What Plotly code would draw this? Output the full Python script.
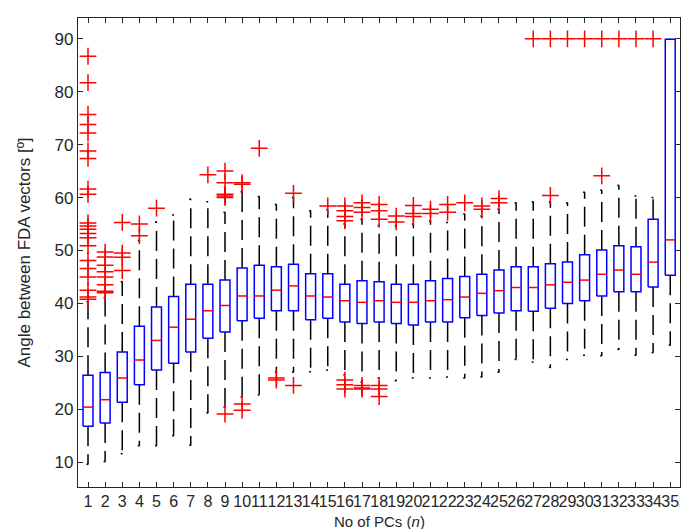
import plotly.graph_objects as go

n_pcs = list(range(1, 36))
q1 = [16.8, 17.4, 21.3, 24.6, 27.4, 28.7, 30.8, 33.4, 34.6, 36.7,
      37.2, 38.6, 38.6, 36.9, 37.2, 36.5, 36.2, 36.5, 36.2, 35.9,
      36.5, 36.5, 37.3, 37.7, 38.2, 38.6, 38.5, 39.1, 40.0, 40.5,
      41.4, 42.2, 42.2, 43.1, 45.3]
median = [20.4, 21.8, 25.9, 29.3, 33.0, 35.5, 37.0, 38.6, 39.6, 41.4,
          41.4, 42.5, 43.3, 41.4, 41.2, 40.5, 40.2, 40.5, 40.2, 40.2,
          40.5, 40.7, 41.2, 41.9, 42.4, 43.0, 43.0, 43.5, 44.0, 44.4,
          45.5, 46.3, 45.5, 47.8, 52.0]
q3 = [26.4, 26.95, 30.8, 35.7, 39.3, 41.3, 43.6, 43.6, 44.4, 46.7,
      47.2, 46.9, 47.4, 45.6, 45.6, 43.6, 44.3, 44.1, 43.6, 43.6,
      44.3, 44.7, 45.1, 45.5, 46.3, 46.9, 46.9, 47.5, 47.8, 49.2,
      50.1, 50.9, 50.7, 55.9, 89.9]
whisker_low = [9.6, 10.1, 11.6, 13.1, 13.1, 15.0, 13.2, 19.3, 20.4, 22.3,
               22.7, 27.0, 27.0, 27.1, 27.4, 26.5, 25.1, 25.9, 25.4, 25.9,
               25.9, 26.1, 25.9, 26.1, 27.0, 29.4, 28.9, 27.9, 29.4, 30.2,
               30.1, 31.3, 30.2, 30.7, 32.1]
whisker_high = [40.3, 41.0, 44.1, 51.9, 55.4, 56.7, 59.7, 59.2, 57.2, 61.1,
                60.2, 58.7, 60.0, 57.5, 57.7, 55.0, 55.9, 54.7, 54.7, 55.0,
                55.6, 55.3, 56.9, 56.5, 57.8, 59.0, 59.2, 59.2, 59.0, 61.0,
                61.4, 62.3, 60.3, 60.0, 89.9]
outliers = [
    [86.7, 81.7, 75.7, 73.8, 72.2, 68.8, 67.4, 61.6, 60.6, 55.2, 54.6, 54.0,
     53.2, 52.4, 50.9, 48.1, 46.6, 45.0, 42.5, 41.2, 40.8],
    [49.7, 48.75, 47.2, 46.0, 45.0, 43.5, 42.3, 42.0],
    [55.3, 49.5, 48.7, 46.2],
    [55.0, 52.8],
    [58.0],
    [],
    [],
    [64.3],
    [65.0, 62.8, 60.6, 60.3, 60.0, 19.1],
    [62.8, 62.5, 21.0, 19.8],
    [69.3],
    [25.9, 25.5],
    [60.8, 24.5],
    [],
    [58.4],
    [58.4, 57.5, 56.4, 55.6, 25.5, 24.6, 23.8],
    [59.0, 58.1, 57.2, 24.5, 23.8, 24.0],
    [58.7, 57.5, 55.9, 24.5, 23.8, 22.4],
    [56.5, 55.4],
    [58.5, 57.0, 56.4],
    [57.8, 57.0],
    [58.7, 57.2],
    [59.0],
    [58.4, 57.8],
    [59.8, 59.0],
    [],
    [90.0],
    [90.0, 60.4],
    [90.0],
    [90.0],
    [90.0, 64.1],
    [90.0],
    [90.0],
    [90.0],
    [],
]
y_ticks = [10, 20, 30, 40, 50, 60, 70, 80, 90]

HALF = 0.29
CAP_L, CAP_R = 0.09, 0.02

box_x, box_y = [], []
med_x, med_y = [], []
wh_x, wh_y = [], []
cap_x, cap_y = [], []
out_x, out_y = [], []
for i, n in enumerate(n_pcs):
    box_x += [n - HALF, n + HALF, n + HALF, n - HALF, n - HALF, None]
    box_y += [q1[i], q1[i], q3[i], q3[i], q1[i], None]
    med_x += [n - HALF, n + HALF, None]
    med_y += [median[i], median[i], None]
    if whisker_high[i] > q3[i] + 0.05:
        wh_x += [n, n, None]
        wh_y += [q3[i], whisker_high[i], None]
    wh_x += [n, n, None]
    wh_y += [q1[i], whisker_low[i], None]
    cap_x += [n - CAP_L, n + CAP_R, None, n - CAP_L, n + CAP_R, None]
    cap_y += [whisker_high[i], whisker_high[i], None,
              whisker_low[i], whisker_low[i], None]
    for v in outliers[i]:
        out_x.append(n)
        out_y.append(v)

fig = go.Figure()
fig.add_trace(go.Scatter(x=wh_x, y=wh_y, mode="lines",
                         line=dict(color="#000000", width=1.5, dash="20px,8px"),
                         hoverinfo="skip", showlegend=False))
fig.add_trace(go.Scatter(x=cap_x, y=cap_y, mode="lines",
                         line=dict(color="#000000", width=1.5),
                         hoverinfo="skip", showlegend=False))
fig.add_trace(go.Scatter(x=box_x, y=box_y, mode="lines",
                         line=dict(color="#0000ff", width=1.5),
                         hoverinfo="skip", showlegend=False))
fig.add_trace(go.Scatter(x=med_x, y=med_y, mode="lines",
                         line=dict(color="#ff0000", width=1.5),
                         hoverinfo="skip", showlegend=False))
fig.add_trace(go.Scatter(x=out_x, y=out_y, mode="markers",
                         marker=dict(symbol="cross-thin", size=12,
                                     line=dict(color="#ff0000", width=1.5)),
                         hoverinfo="skip", showlegend=False))

font_family = "Liberation Sans, Arial, sans-serif"
fig.update_layout(
    width=697, height=529,
    margin=dict(l=70, r=25, t=10, b=50),
    paper_bgcolor="white", plot_bgcolor="white",
    font=dict(family=font_family, size=17, color="#262626"),
    xaxis=dict(
        range=[0.416, 35.57],
        tickmode="array", tickvals=n_pcs, ticktext=[str(v) for v in n_pcs],
        tickangle=0,
        ticks="inside", ticklen=5, tickwidth=1, tickcolor="#262626",
        showline=True, linecolor="#262626", linewidth=1.2, mirror="ticks",
        showgrid=False, zeroline=False,
        tickfont=dict(size=16, color="#262626"),
    ),
    yaxis=dict(
        range=[5.3, 93.93],
        tickmode="array", tickvals=y_ticks,
        ticks="inside", ticklen=5, tickwidth=1, tickcolor="#262626",
        showline=True, linecolor="#262626", linewidth=1.2, mirror="ticks",
        showgrid=False, zeroline=False,
        tickfont=dict(size=17, color="#262626"),
        title=dict(text="Angle between FDA vectors [º]", font=dict(size=17), standoff=19),
    ),
    annotations=[dict(
        text="No of PCs (<i>n</i>)", xref="paper", yref="paper",
        x=0.5, y=-0.0725, xanchor="center", yanchor="middle",
        showarrow=False, font=dict(size=15, color="#262626"),
    )],
)

fig.write_html("out.html")
